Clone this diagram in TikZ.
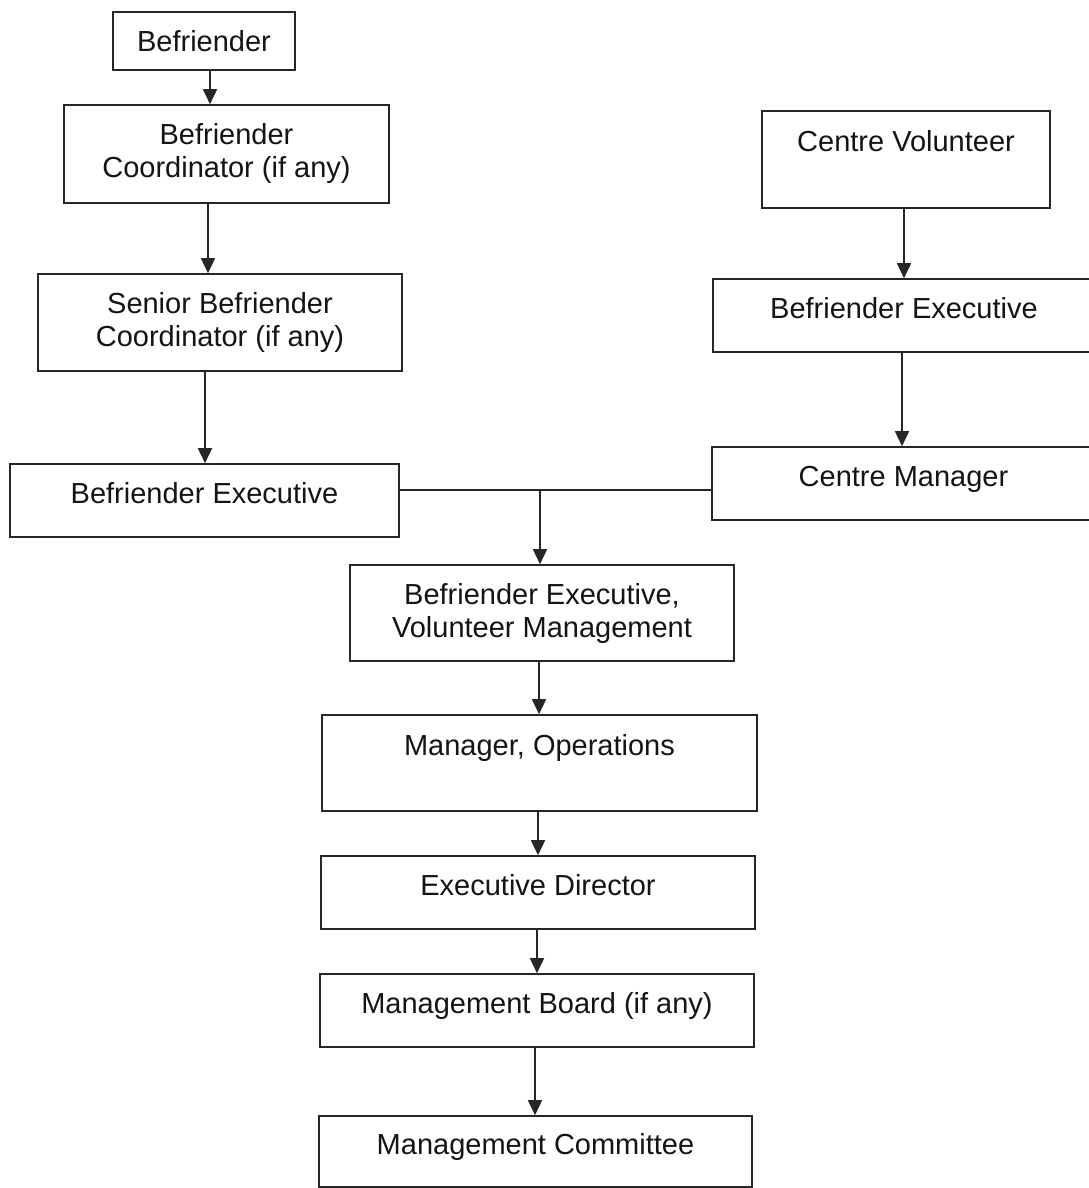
\documentclass[tikz,border=0pt]{standalone}
\usepackage{fontspec}
\setmainfont{Liberation Sans}
\usetikzlibrary{arrows.meta}
\begin{document}
\begin{tikzpicture}[x=1pt,y=-1pt,
  box/.style={draw=black!85, line width=1.6pt, inner sep=0pt, text=black!92, font=\fontsize{29}{33}\selectfont, align=center},
  one/.style={text height=21.75pt, text depth=15pt},
  high/.style={text height=21.75pt, text depth=37pt},
  arr/.style={line width=1.6pt, draw=black!85, -{Triangle[length=15pt,width=14pt]}},
  ln/.style={line width=1.6pt, draw=black!85}]
\useasboundingbox (0,0) rectangle (1089,1188);
\fill[white] (0,0) rectangle (1089,1188);

% left column
\node[box, minimum width=182pt, minimum height=58pt] (bef) at (204,41) {Befriender};
\node[box, minimum width=325pt, minimum height=98pt] (coord) at (226.5,154) {Befriender\\Coordinator (if any)};
\node[box, minimum width=364pt, minimum height=97pt] (senior) at (220,322.5) {Senior Befriender\\Coordinator (if any)};
\node[box, one, minimum width=389pt, minimum height=73pt] (lexec) at (204.5,500.5) {Befriender Executive};

% right column
\node[box, high, minimum width=288pt, minimum height=97pt] (cv) at (906,159.5) {Centre Volunteer};
\node[box, one, minimum width=382pt, minimum height=73pt] (rexec) at (904,315.5) {Befriender Executive};
\node[box, one, minimum width=383pt, minimum height=73pt] (cm) at (903.5,483.5) {Centre Manager};

% central column
\node[box, minimum width=384pt, minimum height=96pt] (bevm) at (542,613) {Befriender Executive,\\Volunteer Management};
\node[box, high, minimum width=435pt, minimum height=96pt] (mops) at (539.5,763) {Manager, Operations};
\node[box, one, minimum width=434pt, minimum height=73pt] (ed) at (538,892.5) {Executive Director};
\node[box, one, minimum width=434pt, minimum height=73pt] (mb) at (537,1010.5) {Management Board (if any)};
\node[box, one, minimum width=433pt, minimum height=71pt] (mc) at (535.5,1151.5) {Management Committee};

% connector columns
\coordinate (a1) at (210,0);
\coordinate (a2) at (208,0);
\coordinate (a3) at (205,0);
\coordinate (a4) at (904,0);
\coordinate (a5) at (902,0);
\coordinate (a6) at (539,0);
\coordinate (a7) at (538,0);
\coordinate (a8) at (537,0);
\coordinate (a9) at (535,0);
\coordinate (j) at (540,490);

\draw[arr] (bef.south -| a1) -- (coord.north -| a1);
\draw[arr] (coord.south -| a2) -- (senior.north -| a2);
\draw[arr] (senior.south -| a3) -- (lexec.north -| a3);
\draw[arr] (cv.south -| a4) -- (rexec.north -| a4);
\draw[arr] (rexec.south -| a5) -- (cm.north -| a5);
\draw[ln] (lexec.east |- j) -- (cm.west |- j);
\draw[arr] (j) -- (j |- bevm.north);
\draw[arr] (bevm.south -| a6) -- (mops.north -| a6);
\draw[arr] (mops.south -| a7) -- (ed.north -| a7);
\draw[arr] (ed.south -| a8) -- (mb.north -| a8);
\draw[arr] (mb.south -| a9) -- (mc.north -| a9);
\end{tikzpicture}
\end{document}
